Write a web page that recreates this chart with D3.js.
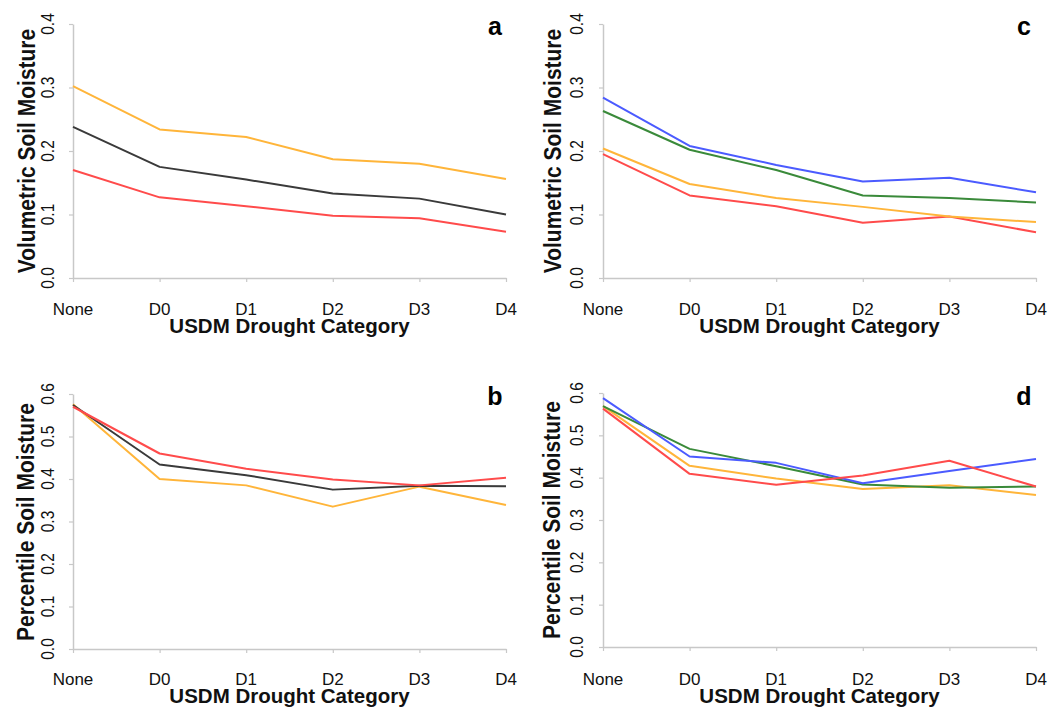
<!DOCTYPE html>
<html>
<head>
<meta charset="utf-8">
<script src="https://cdn.jsdelivr.net/npm/d3@7"></script>
<style>
  html, body { margin: 0; padding: 0; background: #fff; }
  svg { display: block; font-family: "Liberation Sans", Arial, sans-serif; }
</style>
</head>
<body>
<div id="chart"></div>
<script>
// Categories and tick labels
const categories = ['None', 'D0', 'D1', 'D2', 'D3', 'D4'];
const volTicks = [0.0, 0.1, 0.2, 0.3, 0.4];
const pctTicks = [0.0, 0.1, 0.2, 0.3, 0.4, 0.5, 0.6];

// Panel a: volumetric soil moisture
const aOrange = [0.302, 0.234, 0.222, 0.187, 0.180, 0.156];
const aBlack  = [0.238, 0.175, 0.155, 0.133, 0.125, 0.100];
const aRed    = [0.170, 0.127, 0.113, 0.098, 0.094, 0.073];

// Panel b: percentile soil moisture
const bRed    = [0.570, 0.460, 0.424, 0.399, 0.385, 0.403];
const bBlack  = [0.574, 0.434, 0.409, 0.375, 0.384, 0.383];
const bOrange = [0.576, 0.400, 0.385, 0.335, 0.382, 0.339];

// Panel c: volumetric soil moisture
const cBlue   = [0.284, 0.208, 0.178, 0.152, 0.158, 0.135];
const cGreen  = [0.263, 0.202, 0.170, 0.130, 0.126, 0.119];
const cOrange = [0.204, 0.148, 0.126, 0.112, 0.097, 0.088];
const cRed    = [0.195, 0.130, 0.113, 0.087, 0.097, 0.072];

// Panel d: percentile soil moisture
const dBlue   = [0.588, 0.450, 0.435, 0.387, 0.416, 0.444];
const dGreen  = [0.569, 0.468, 0.427, 0.384, 0.376, 0.379];
const dOrange = [0.569, 0.428, 0.398, 0.373, 0.382, 0.359];
const dRed    = [0.563, 0.409, 0.383, 0.405, 0.440, 0.379];

const COLORS = {
  orange: '#FFB53A',
  red: '#FF4B4B',
  black: '#3A3A3A',
  blue: '#4B5BFF',
  green: '#3A8A3A',
  axis: '#C8C8C8',
  text: '#111'
};

const W = 1055, H = 707;
// rotated labels in the source look a little wider than tall
const ROT_STRETCH = 1.15;

const panels = [
  {
    letter: 'a', x0: 73, x1: 506, yTop: 24, yBot: 278, max: 0.4, ticks: volTicks,
    yTitle: 'Volumetric Soil Moisture', tickX: 54, titleX: 35, titleY: 151,
    catY: 315, xTitleY: 333, letterX: 495, letterY: 35,
    series: [[aOrange, COLORS.orange], [aBlack, COLORS.black], [aRed, COLORS.red]]
  },
  {
    letter: 'b', x0: 73, x1: 506, yTop: 394, yBot: 649, max: 0.6, ticks: pctTicks,
    yTitle: 'Percentile Soil Moisture', tickX: 54, titleX: 34, titleY: 522,
    catY: 685, xTitleY: 703, letterX: 495, letterY: 405,
    series: [[bOrange, COLORS.orange], [bBlack, COLORS.black], [bRed, COLORS.red]]
  },
  {
    letter: 'c', x0: 603, x1: 1036, yTop: 24, yBot: 278, max: 0.4, ticks: volTicks,
    yTitle: 'Volumetric Soil Moisture', tickX: 583, titleX: 561, titleY: 151,
    catY: 315, xTitleY: 333, letterX: 1024, letterY: 35,
    series: [[cRed, COLORS.red], [cOrange, COLORS.orange], [cGreen, COLORS.green], [cBlue, COLORS.blue]]
  },
  {
    letter: 'd', x0: 603, x1: 1036, yTop: 393, yBot: 647, max: 0.6, ticks: pctTicks,
    yTitle: 'Percentile Soil Moisture', tickX: 583, titleX: 560, titleY: 520,
    catY: 685, xTitleY: 703, letterX: 1024, letterY: 405,
    series: [[dOrange, COLORS.orange], [dGreen, COLORS.green], [dBlue, COLORS.blue], [dRed, COLORS.red]]
  }
];

const svg = d3.select('#chart')
  .append('svg')
  .attr('width', W)
  .attr('height', H)
  .attr('viewBox', `0 0 ${W} ${H}`);

panels.forEach(p => {
  const x = d3.scalePoint().domain(categories).range([p.x0, p.x1]);
  const y = d3.scaleLinear().domain([0, p.max]).range([p.yBot, p.yTop]);

  const g = svg.append('g').attr('class', `panel-${p.letter}`);

  // x axis (line + ticks, labels drawn separately)
  const xAxis = g.append('g')
    .attr('transform', `translate(0,${p.yBot})`)
    .call(d3.axisBottom(x).tickSize(4).tickSizeOuter(0).tickFormat(''));
  // y axis
  const yAxis = g.append('g')
    .attr('transform', `translate(${p.x0},0)`)
    .call(d3.axisLeft(y).tickValues(p.ticks).tickSize(4).tickSizeOuter(0).tickFormat(''));

  [xAxis, yAxis].forEach(ax => {
    ax.select('.domain').attr('stroke', COLORS.axis).attr('stroke-width', 1.5);
    ax.selectAll('.tick line').attr('stroke', COLORS.axis).attr('stroke-width', 1.2);
  });

  // category labels
  g.selectAll('.cat')
    .data(categories)
    .join('text')
    .attr('class', 'cat')
    .attr('x', d => x(d))
    .attr('y', p.catY)
    .attr('text-anchor', 'middle')
    .attr('font-size', '17px')
    .attr('fill', COLORS.text)
    .text(d => d);

  // rotated y tick labels
  g.selectAll('.ytick')
    .data(p.ticks)
    .join('text')
    .attr('class', 'ytick')
    .attr('transform', d => `translate(${p.tickX},${y(d)}) rotate(-90) scale(1,${ROT_STRETCH})`)
    .attr('text-anchor', 'middle')
    .attr('font-size', '15.5px')
    .attr('fill', COLORS.text)
    .text(d => d.toFixed(1));

  // axis titles
  g.append('text')
    .attr('transform', `translate(${p.titleX},${p.titleY}) rotate(-90) scale(1,${ROT_STRETCH})`)
    .attr('text-anchor', 'middle')
    .attr('font-size', '21px')
    .attr('font-weight', 'bold')
    .attr('fill', COLORS.text)
    .text(p.yTitle);

  g.append('text')
    .attr('x', (p.x0 + p.x1) / 2)
    .attr('y', p.xTitleY)
    .attr('text-anchor', 'middle')
    .attr('font-size', '20.5px')
    .attr('font-weight', 'bold')
    .attr('fill', COLORS.text)
    .text('USDM Drought Category');

  // series lines
  const line = d3.line()
    .x((d, i) => x(categories[i]))
    .y(d => y(d));

  g.selectAll('.series')
    .data(p.series)
    .join('path')
    .attr('class', 'series')
    .attr('d', d => line(d[0]))
    .attr('fill', 'none')
    .attr('stroke', d => d[1])
    .attr('stroke-width', 2)
    .attr('stroke-linejoin', 'round');

  // panel letter
  g.append('text')
    .attr('x', p.letterX)
    .attr('y', p.letterY)
    .attr('text-anchor', 'middle')
    .attr('font-size', '25px')
    .attr('font-weight', 'bold')
    .attr('fill', '#000')
    .text(p.letter);
});
</script>
</body>
</html>
